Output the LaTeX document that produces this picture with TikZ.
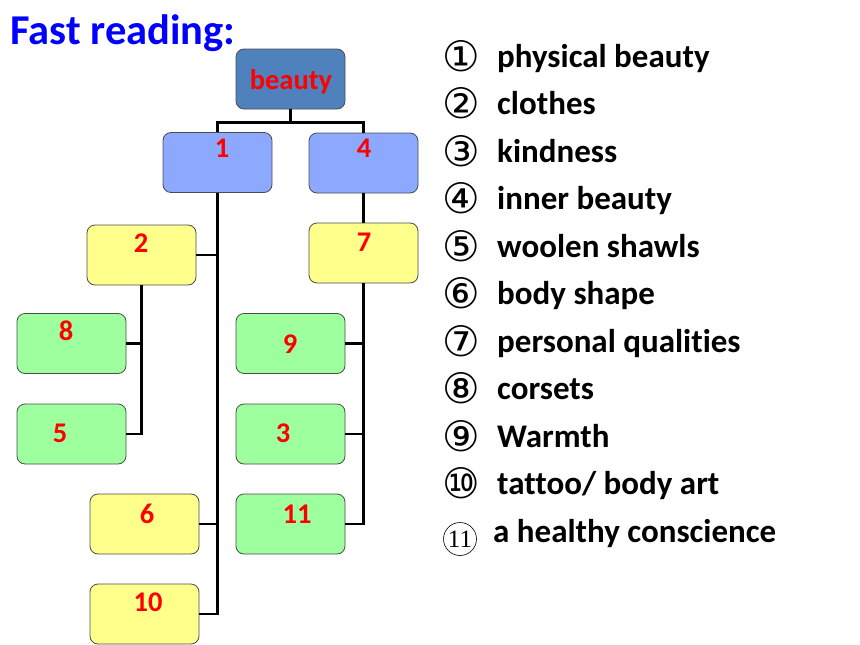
\documentclass[tikz,border=0pt]{standalone}
\usepackage{fontspec}
\setmainfont[Ligatures=NoCommon]{Carlito}
\newfontfamily\circfont{DejaVu Sans}
\newfontfamily\numserif{Liberation Serif}
\definecolor{rootblue}{HTML}{4F81BD}
\definecolor{lightblue}{HTML}{8CA9FF}
\definecolor{lightyellow}{HTML}{FFFF8C}
\definecolor{lightgreen}{HTML}{9EFF9E}
\definecolor{titleblue}{HTML}{0000FF}
\begin{document}
\begin{tikzpicture}[x=1pt, y=-1pt,
        box/.style={draw=black!70, line width=0.8pt, rounded corners=8pt,
            minimum width=109pt, minimum height=60pt, inner sep=0pt},
        num/.style={anchor=base, text=red, font=\fontsize{28.5}{30}\selectfont\bfseries, inner sep=0pt},
        conn/.style={draw=black, line width=2.6pt},
        item/.style={anchor=base west, font=\fontsize{33}{36}\selectfont\bfseries, inner sep=0pt},
        circ/.style={anchor=base west, font=\fontsize{42}{46}\circfont, inner sep=0pt}]
        \useasboundingbox (0,0) rectangle (860,645);

        \node[anchor=base west, inner sep=0pt, text=titleblue,
            font=\fontsize{42.5}{46}\selectfont\bfseries] (title) at (10,45) {Fast reading:};

        % boxes
        \node[box, fill=rootblue] (root) at (290.5,79) {};
        \node[box, fill=lightblue] (b1) at (217.5,162.5) {};
        \node[box, fill=lightblue] (b4) at (363.5,163) {};
        \node[box, fill=lightyellow] (b2) at (141.5,255) {};
        \node[box, fill=lightyellow] (b7) at (363.5,253) {};
        \node[box, fill=lightgreen] (b8) at (71.5,343.5) {};
        \node[box, fill=lightgreen] (b5) at (71.5,434) {};
        \node[box, fill=lightgreen] (b9) at (290.5,343.5) {};
        \node[box, fill=lightgreen] (b3) at (290.5,434) {};
        \node[box, fill=lightgreen] (b11) at (290.5,524) {};
        \node[box, fill=lightyellow] (b6) at (144.5,524) {};
        \node[box, fill=lightyellow] (b10) at (144.5,614) {};

        \node[num] (troot) at (291,89) {beauty};
        \node[num] (t1) at (222,157) {1};
        \node[num] (t4) at (364,157) {4};
        \node[num] (t2) at (141,252) {2};
        \node[num] (t7) at (364,251) {7};
        \node[num] (t8) at (66,340) {8};
        \node[num] (t5) at (60,442) {5};
        \node[num] (t9) at (290,353) {9};
        \node[num] (t3) at (283,442) {3};
        \node[num] (t11) at (297,523) {11};
        \node[num] (t6) at (147,523) {6};
        \node[num] (t10) at (148,611) {10};

        % connectors
        \draw[conn] (root.south) -- ++(0,13) -| (b1.north);
        \draw[conn] (root.south) -- ++(0,13) -| (b4.north);
        \draw[conn] (b1.south) |- (b10.east);
        \draw[conn] (b2.east) -- (b2.east -| b1.south);
        \draw[conn] (b6.east) -- (b6.east -| b1.south);
        \draw[conn] (b2.south) |- (b5.east);
        \draw[conn] (b8.east) -- (b8.east -| b2.south);
        \draw[conn] (b4.south) -- (b7.north);
        \draw[conn] (b7.south) |- (b11.east);
        \draw[conn] (b9.east) -- (b9.east -| b7.south);
        \draw[conn] (b3.east) -- (b3.east -| b7.south);

        % key
        \node[circ] (c1) at (442,71) {①};
        \node[circ] (c2) at (442,118.5) {②};
        \node[circ] (c3) at (442,166) {③};
        \node[circ] (c4) at (442,213.5) {④};
        \node[circ] (c5) at (442,261) {⑤};
        \node[circ] (c6) at (442,308.5) {⑥};
        \node[circ] (c7) at (442,356) {⑦};
        \node[circ] (c8) at (442,403.5) {⑧};
        \node[circ] (c9) at (442,451) {⑨};
        \node[circ] (c10) at (442,498.5) {⑩};
        \node[draw, circle, line width=0.6pt, minimum size=33pt, inner sep=0pt,
            font=\fontsize{25}{26}\numserif] (c11) at (460,539) {11};

        \node[item] (k1) at (497,67) {physical beauty};
        \node[item] (k2) at (497,114.5) {clothes};
        \node[item] (k3) at (497,162) {kindness};
        \node[item] (k4) at (497,209.5) {inner beauty};
        \node[item] (k5) at (497,257) {woolen shawls};
        \node[item] (k6) at (497,304.5) {body shape};
        \node[item] (k7) at (497,352) {personal qualities};
        \node[item] (k8) at (497,399.5) {corsets};
        \node[item] (k9) at (497,447) {Warmth};
        \node[item] (k10) at (497,494.5) {tattoo/ body art};
        \node[item] (k11) at (493,542) {a healthy conscience};
    \end{tikzpicture}
\end{document}
